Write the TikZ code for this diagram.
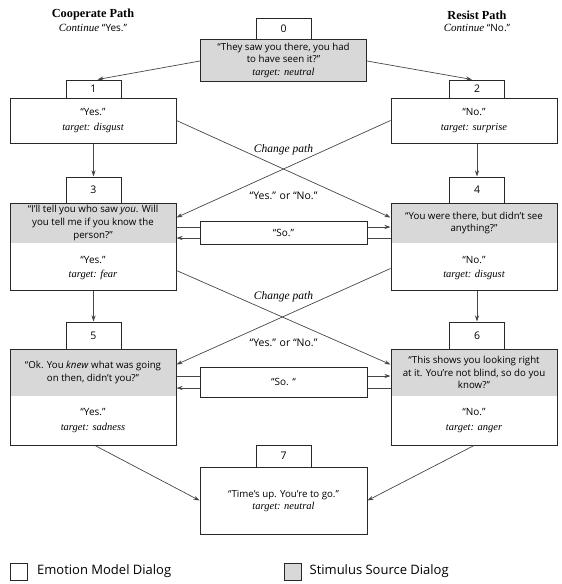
\documentclass[tikz,border=0pt]{standalone}
\usepackage{fontspec}
\setmainfont{Liberation Serif}
\setsansfont{Open Sans}
\usetikzlibrary{arrows.meta,calc}
\definecolor{stimgray}{RGB}{216,216,216}
\definecolor{linkgray}{RGB}{70,70,70}
\definecolor{edgegray}{RGB}{40,40,40}
\newcommand{\tgt}[1]{{\rmfamily\itshape\fontsize{10.5}{12}\selectfont #1}}

\begin{document}
\begin{tikzpicture}[x=1pt, y=-1pt,
    numbox/.style={draw=edgegray, line width=1pt, minimum width=55, inner sep=0pt, font=\sffamily\fontsize{10.5}{12}\selectfont},
    dlgbox/.style={draw=edgegray, line width=1pt, minimum width=166, inner sep=0pt},
    stimbox/.style={fill=stimgray, minimum width=165, inner sep=0pt, align=center, font=\sffamily\fontsize{9.7}{12.8}\selectfont},
    txt/.style={align=center, inner sep=0pt, font=\sffamily\fontsize{10}{14.5}\selectfont},
    link/.style={draw=linkgray, line width=0.7pt},
    arr/.style={link, -{Stealth[length=6pt, width=4pt]}},
    lbl/.style={inner sep=0pt, font=\fontsize{11}{13}\selectfont}]
  \useasboundingbox (0,0) rectangle (562,584);
  \def\colL{93}
  \def\colR{474}
  \def\colM{283.5}
  %
  % headers
  \node[lbl, font=\bfseries\fontsize{12.3}{14}\selectfont] (hdrL) at (\colL,15) {Cooperate Path};
  \node[lbl] (subL) at (\colL,27.5) {\textit{Continue} \textsf{\fontsize{10}{12}\selectfont “Yes.”}};
  \node[lbl, font=\bfseries\fontsize{12.3}{14}\selectfont] (hdrR) at (477,15) {Resist Path};
  \node[lbl] (subR) at (477,27.5) {\textit{Continue} \textsf{\fontsize{10}{12}\selectfont “No.”}};
  %
  % step 0
  \node[numbox, minimum height=21] (lab0) at (\colM,28.5) {0};
  \node[dlgbox, fill=stimgray, minimum height=42, align=center,
        font=\sffamily\fontsize{9.7}{12.5}\selectfont] (box0) at (\colM,60)
        {“They saw you there, you had\\to have seen it?”\\\tgt{target: neutral}};
  %
  % steps 1 and 2
  \node[numbox, minimum height=18] (lab1) at (93.5,89) {1};
  \node[dlgbox, minimum height=45] (box1) at (\colL,120.5) {};
  \node[txt] (resp1) at (\colL,120.5) {“Yes.”\\\tgt{target: disgust}};
  \node[numbox, minimum height=18] (lab2) at (477,89) {2};
  \node[dlgbox, minimum height=45] (box2) at (\colR,120.5) {};
  \node[txt] (resp2) at (\colR,120.5) {“No.”\\\tgt{target: surprise}};
  %
  % steps 3 and 4
  \node[numbox, minimum height=26] (lab3) at (93.5,190) {3};
  \node[stimbox, minimum height=40] (stim3) at (\colL,223)
        {“I’ll tell you who saw \textit{you}. Will\\you tell me if you know the\\person?”};
  \node[dlgbox, minimum height=87] (box3) at (\colL,246.5) {};
  \node[txt] (resp3) at (\colL,268) {“Yes.”\\\tgt{target: fear}};
  \node[numbox, minimum height=26] (lab4) at (477,190) {4};
  \node[stimbox, minimum height=40] (stim4) at (\colR,223)
        {“You were there, but didn’t see\\anything?”};
  \node[dlgbox, minimum height=87] (box4) at (\colR,246.5) {};
  \node[txt] (resp4) at (\colR,268) {“No.”\\\tgt{target: disgust}};
  %
  % steps 5 and 6
  \node[numbox, minimum height=27] (lab5) at (93.5,335.5) {5};
  \node[stimbox, minimum height=47] (stim5) at (\colL,372.5)
        {“Ok. You \textit{knew} what was going\\on then, didn’t you?”};
  \node[dlgbox, minimum height=96] (box5) at (\colL,397) {};
  \node[txt] (resp5) at (\colL,420.5) {“Yes.”\\\tgt{target: sadness}};
  \node[numbox, minimum height=27] (lab6) at (477,335.5) {6};
  \node[stimbox, minimum height=47] (stim6) at (\colR,372.5)
        {“This shows you looking right\\at it. You’re not blind, so do you\\know?”};
  \node[dlgbox, minimum height=96] (box6) at (\colR,397) {};
  \node[txt] (resp6) at (\colR,420.5) {“No.”\\\tgt{target: anger}};
  %
  % step 7
  \node[numbox, minimum height=22] (lab7) at (\colM,456) {7};
  \node[dlgbox, minimum width=167, minimum height=67] (box7) at (\colM,500.5) {};
  \node[txt, font=\sffamily\fontsize{9.7}{12.5}\selectfont] (resp7) at (\colM,501)
        {“Time’s up. You’re to go.”\\\tgt{target: neutral}};
  %
  % "So." boxes
  \node[dlgbox, minimum width=167, minimum height=23, font=\sffamily\fontsize{10}{12}\selectfont] (so1) at (\colM,232.5) {“So.”};
  \node[dlgbox, minimum width=167, minimum height=30, font=\sffamily\fontsize{10}{12}\selectfont] (so2) at (\colM,382) {“So. “};
  %
  % path labels
  \node[lbl, font=\itshape\fontsize{11.5}{13}\selectfont] (chg1) at (\colM,150) {Change path};
  \node[lbl, font=\sffamily\fontsize{10.5}{12}\selectfont] (yn1) at (\colM,196) {“Yes.” or “No.”};
  \node[lbl, font=\itshape\fontsize{11.5}{13}\selectfont] (chg2) at (\colM,297) {Change path};
  \node[lbl, font=\sffamily\fontsize{10.5}{12}\selectfont] (yn2) at (\colM,343) {“Yes.” or “No.”};
  %
  % connectors
  \draw[arr] ($(box0.west)+(0,1)$) -- ($(lab1.north)+(4,0)$);
  \draw[arr] ($(box0.east)+(0,1)$) -- ($(lab2.north)+(-5,0)$);
  \draw[arr] (lab3.north |- box1.south) -- (lab3.north);
  \draw[arr] (lab4.north |- box2.south) -- (lab4.north);
  \draw[arr] (lab5.north |- box3.south) -- (lab5.north);
  \draw[arr] (lab6.north |- box4.south) -- (lab6.north);
  %
  \draw[arr] (box1.east) -- ($(box4.north west)+(0,15)$);
  \draw[arr] (box2.west) -- ($(box3.north east)+(0,15)$);
  \draw[arr] ($(box3.south east)+(0,-20)$) -- ($(box6.north west)+(0,16)$);
  \draw[arr] ($(box4.south west)+(0,-22)$) -- ($(box5.north east)+(0,16)$);
  %
  \foreach \s/\d/\l/\r in {so1/5.5/box3/box4, so2/6/box5/box6} {
    \coordinate (\s-wt) at ($(\s.west)+(0,-\d)$);
    \coordinate (\s-wb) at ($(\s.west)+(0,\d)$);
    \coordinate (\s-et) at ($(\s.east)+(0,-\d)$);
    \coordinate (\s-eb) at ($(\s.east)+(0,\d)$);
    \draw[link] (\s-wt -| \l.east) -- (\s-wt);
    \draw[arr] (\s-et) -- (\s-et -| \r.west);
    \draw[link] (\s-eb -| \r.west) -- (\s-eb);
    \draw[arr] (\s-wb) -- (\s-wb -| \l.east);
  }
  %
  \draw[arr] ($(box5.south)+(2,0)$) -- (box7.west);
  \draw[arr] (box6.south) -- (box7.east);
  %
  % legend
  \node[draw=edgegray, line width=0.9pt, minimum size=17, inner sep=0pt] (keyE) at (19,571.5) {};
  \node[anchor=west, inner sep=0pt, font=\sffamily\fontsize{13}{15}\selectfont] (keyEtxt) at ($(keyE.east)+(9,0)$) {Emotion Model Dialog};
  \node[draw=edgegray, fill=stimgray, line width=0.9pt, minimum size=17, inner sep=0pt] (keyS) at (292.5,571.5) {};
  \node[anchor=west, inner sep=0pt, font=\sffamily\fontsize{13}{15}\selectfont] (keySTxt) at ($(keyS.east)+(8,0)$) {Stimulus Source Dialog};
\end{tikzpicture}
\end{document}
